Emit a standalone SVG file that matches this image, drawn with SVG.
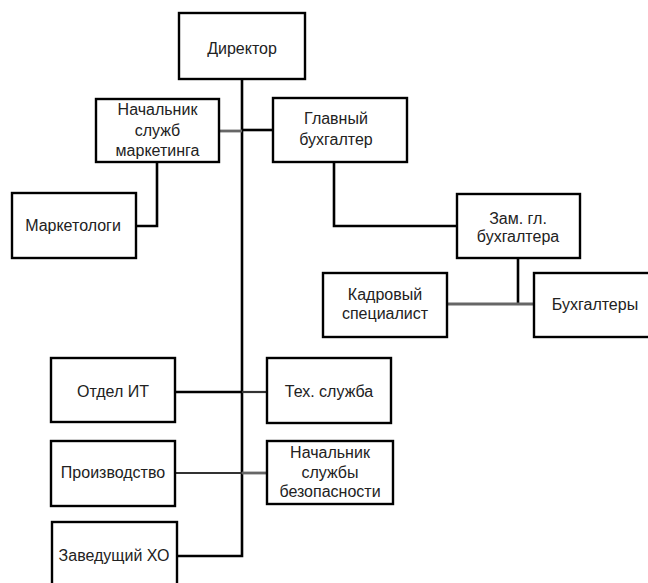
<svg xmlns="http://www.w3.org/2000/svg" width="648" height="583" viewBox="0 0 648 583">
  <style>
    .box { fill: #fff; stroke: #000; stroke-width: 2.4; }
    .lbl { font-family: "Liberation Sans", Arial, sans-serif; font-size: 16px; fill: #222; text-anchor: middle; }
    .ln { fill: none; stroke: #000; stroke-width: 2.6; }
    .lg { fill: none; stroke: #666; stroke-width: 2.8; }
    .ld { fill: none; stroke: #333; stroke-width: 2.2; }
  </style>
  <rect width="648" height="583" fill="#fff"/>

  <!-- connectors -->
  <g id="connectors">
    <polyline class="ln" points="242,79 242,556 177,556"/>
    <line class="lg" x1="219" y1="131" x2="242" y2="131"/>
    <line class="ln" x1="242" y1="130" x2="273" y2="130"/>
    <polyline class="ln" points="157,162 157,226 136,226"/>
    <polyline class="ln" points="334,162 334,226 457,226"/>
    <line class="ln" x1="518" y1="258" x2="518" y2="304"/>
    <line class="lg" x1="447" y1="304" x2="535" y2="304"/>
    <line class="ln" x1="175" y1="392" x2="242" y2="392"/>
    <line class="ld" x1="242" y1="392" x2="267" y2="392"/>
    <line class="ld" x1="175" y1="473" x2="242" y2="473"/>
    <line class="lg" x1="242" y1="473" x2="267" y2="473"/>
  </g>

  <g id="director">
    <rect class="box" x="179" y="13" width="126" height="66"/>
    <text class="lbl" x="242" y="54">Директор</text>
  </g>

  <g id="marketing-head">
    <rect class="box" x="96" y="99" width="123" height="63"/>
    <text class="lbl" x="157.5" y="115">Начальник</text>
    <text class="lbl" x="157.5" y="136">служб</text>
    <text class="lbl" x="157.5" y="156">маркетинга</text>
  </g>

  <g id="chief-accountant">
    <rect class="box" x="273" y="98" width="134" height="64"/>
    <text class="lbl" x="336" y="124">Главный</text>
    <text class="lbl" x="336" y="145">бухгалтер</text>
  </g>

  <g id="marketers">
    <rect class="box" x="12" y="193" width="124" height="65"/>
    <text class="lbl" x="73" y="231">Маркетологи</text>
  </g>

  <g id="deputy-accountant">
    <rect class="box" x="457" y="194" width="123" height="64"/>
    <text class="lbl" x="518" y="224">Зам. гл.</text>
    <text class="lbl" x="518" y="242">бухгалтера</text>
  </g>

  <g id="hr-specialist">
    <rect class="box" x="323" y="273" width="124" height="64"/>
    <text class="lbl" x="385" y="300">Кадровый</text>
    <text class="lbl" x="385" y="319">специалист</text>
  </g>

  <g id="accountants">
    <rect class="box" x="534" y="273" width="120" height="64"/>
    <text class="lbl" x="595" y="310">Бухгалтеры</text>
  </g>

  <g id="it-dept">
    <rect class="box" x="51" y="358" width="124" height="64"/>
    <text class="lbl" x="113" y="397">Отдел ИТ</text>
  </g>

  <g id="tech-service">
    <rect class="box" x="267" y="358" width="124" height="65"/>
    <text class="lbl" x="329" y="397">Тех. служба</text>
  </g>

  <g id="production">
    <rect class="box" x="51" y="441" width="124" height="65"/>
    <text class="lbl" x="113" y="478">Производство</text>
  </g>

  <g id="security-head">
    <rect class="box" x="267" y="441" width="126" height="63"/>
    <text class="lbl" x="330" y="458">Начальник</text>
    <text class="lbl" x="330" y="478">службы</text>
    <text class="lbl" x="330" y="497">безопасности</text>
  </g>

  <g id="household-head">
    <rect class="box" x="52" y="522" width="125" height="70"/>
    <text class="lbl" x="114" y="561">Заведущий ХО</text>
  </g>
</svg>
